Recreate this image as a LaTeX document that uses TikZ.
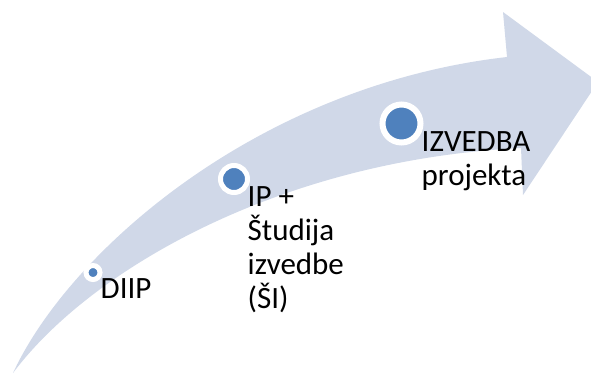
\documentclass[tikz,border=0pt]{standalone}
\usepackage{fontspec}
\setmainfont{Carlito}
\definecolor{arrowfill}{HTML}{D0D8E8}
\definecolor{dotblue}{HTML}{4F81BD}
\begin{document}
\begin{tikzpicture}[x=1bp,y=-1bp,
  dotnode/.style={circle,fill=dotblue,draw=white,inner sep=0pt},
  label/.style={anchor=base west,align=left,inner sep=0pt,font=\fontsize{31bp}{34bp}\selectfont,text=black}]
\useasboundingbox (0,0) rectangle (591,374);
\begin{scope}
\clip (0,0) rectangle (591,374);
\fill[arrowfill] (13,373) .. controls (70,250) and (260,85) .. (507,57)
  -- (503,12) -- (598,82) -- (523,195) -- (521,148)
  .. controls (280,160) and (90,270) .. (13,373) -- cycle;
\end{scope}
\node[dotnode,minimum size=14bp,line width=5bp] (d1) at (93,272.5) {};
\node[dotnode,minimum size=27bp,line width=5bp] (d2) at (234,179) {};
\node[dotnode,minimum size=38bp,line width=6bp] (d3) at (401.5,123.5) {};
\node[label] (t1) at (100.5,298.5) {DIIP};
\node[label] (t2) at (247.5,308) {IP +\\Študija\\izvedbe\\(ŠI)};
\node[label] (t3) at (421.5,185) {IZVEDBA\\projekta};
\end{tikzpicture}
\end{document}
